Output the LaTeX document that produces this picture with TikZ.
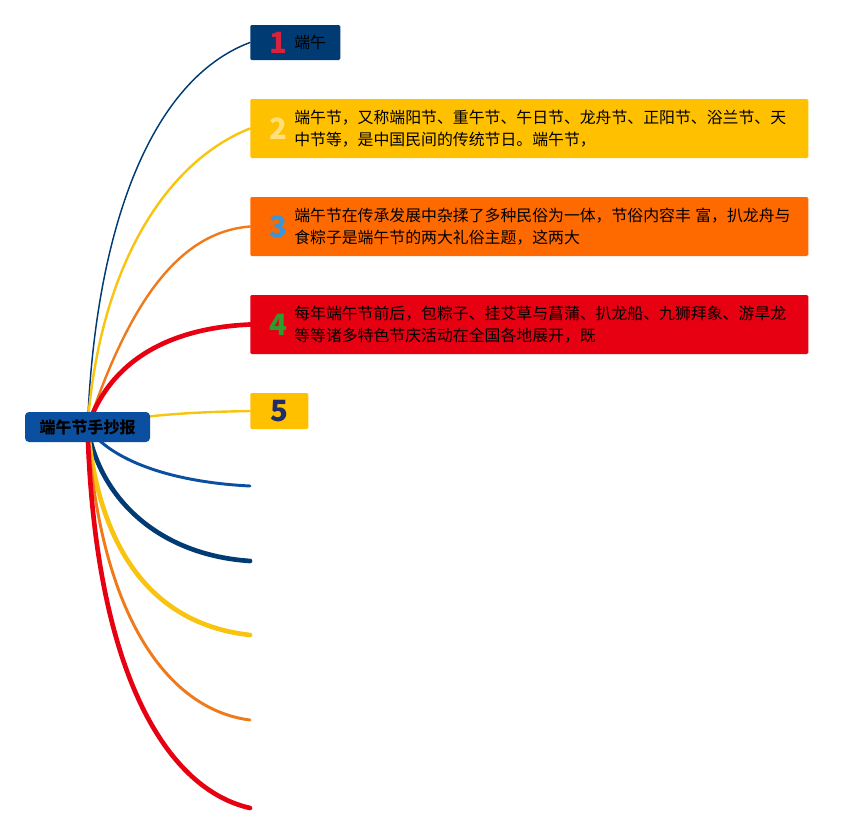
\documentclass[tikz,border=0pt]{standalone}
\usepackage{fontspec}
\setmainfont{Noto Sans CJK SC}
\usepackage{tikz}
\usetikzlibrary{backgrounds}
\definecolor{rootblue}{HTML}{0A4FA0}
\definecolor{navy}{HTML}{003B73}
\definecolor{gold}{HTML}{FFC000}
\definecolor{linegold}{HTML}{F8C40F}
\definecolor{tangerine}{HTML}{FF6A00}
\definecolor{lineorange}{HTML}{F07A1A}
\definecolor{festred}{HTML}{E60012}
\definecolor{numred}{HTML}{D8213B}
\definecolor{numpale}{HTML}{FFE07A}
\definecolor{numblue}{HTML}{3A96D6}
\definecolor{numgreen}{HTML}{2E9B2E}
\definecolor{numnavy}{HTML}{1F2C6A}
\newcommand{\itemrow}[4][385pt]{\hspace*{13.5pt}\parbox[c]{15pt}{\centering\fontsize{22}{22}\selectfont\bfseries\color{#2}#3}\hspace{4.5pt}\parbox[c]{#1}{\fontsize{11.9}{16.8}\selectfont #4}}

\begin{document}
\begin{tikzpicture}[x=0.75pt,y=-0.75pt,
  box/.style={rectangle,rounded corners=1pt,inner sep=0pt,anchor=west,align=left},
  wide/.style={box,text width=418.5pt,minimum height=44.25pt},
  branch/.style={line cap=round}]
  \useasboundingbox (0,0) rectangle (853,835);
  \node[rectangle,rounded corners=3pt,fill=rootblue,minimum width=93.75pt,minimum height=22.5pt,inner sep=0pt,font=\fontsize{12}{12}\selectfont\bfseries] (root) at (87.5,427) {端午节手抄报};
  \node[box,fill=navy,text width=67.5pt,minimum height=26.25pt] (n1) at (250,42.5) {\itemrow[30pt]{numred}{1}{端午}};
  \node[wide,fill=gold] (n2) at (250,128.5) {\itemrow{numpale}{2}{端午节，又称端阳节、重午节、午日节、龙舟节、正阳节、浴兰节、天\\中节等，是中国民间的传统节日。端午节，}};
  \node[wide,fill=tangerine] (n3) at (250,226.5) {\itemrow{numblue}{3}{端午节在传承发展中杂揉了多种民俗为一体，节俗内容丰 富，扒龙舟与\\食粽子是端午节的两大礼俗主题，这两大}};
  \node[wide,fill=festred] (n4) at (250,324.5) {\itemrow{numgreen}{4}{每年端午节前后，包粽子、挂艾草与菖蒲、扒龙船、九狮拜象、游旱龙\\等等诸多特色节庆活动在全国各地展开，既}};
  \node[box,fill=gold,minimum width=43.5pt,minimum height=27pt,font=\fontsize{22}{22}\selectfont\bfseries,text=numnavy,align=center] (n5) at (250,411) {5};
  \coordinate (e1) at (250,486);
  \coordinate (e2) at (250,561);
  \coordinate (e3) at (250,635);
  \coordinate (e4) at (250,720);
  \coordinate (e5) at (250,808);
  \begin{scope}[on background layer]
    \draw[branch,navy,line width=1.1pt] (root.center) .. controls (95,230) and (150,80) .. (n1.west);
    \draw[branch,linegold,line width=1.8pt] (root.center) .. controls (100,260) and (170,160) .. (n2.west);
    \draw[branch,lineorange,line width=1.8pt] (root.center) .. controls (130,300) and (180,232) .. (n3.west);
    \draw[branch,festred,line width=3.5pt] (root.center) .. controls (110,360) and (170,328) .. (n4.west);
    \draw[branch,linegold,line width=1.8pt] (root.center) .. controls (140,414) and (200,412) .. (n5.west);
    \draw[branch,rootblue,line width=2.2pt] (root.center) .. controls (110,460) and (170,482) .. (e1);
    \draw[branch,navy,line width=3.5pt] (root.center) .. controls (100,500) and (160,555) .. (e2);
    \draw[branch,linegold,line width=3.5pt] (root.center) .. controls (100,560) and (160,625) .. (e3);
    \draw[branch,lineorange,line width=2.2pt] (root.center) .. controls (100,620) and (170,710) .. (e4);
    \draw[branch,festred,line width=3.5pt] (root.center) .. controls (95,680) and (170,790) .. (e5);
  \end{scope}
\end{tikzpicture}
\end{document}
